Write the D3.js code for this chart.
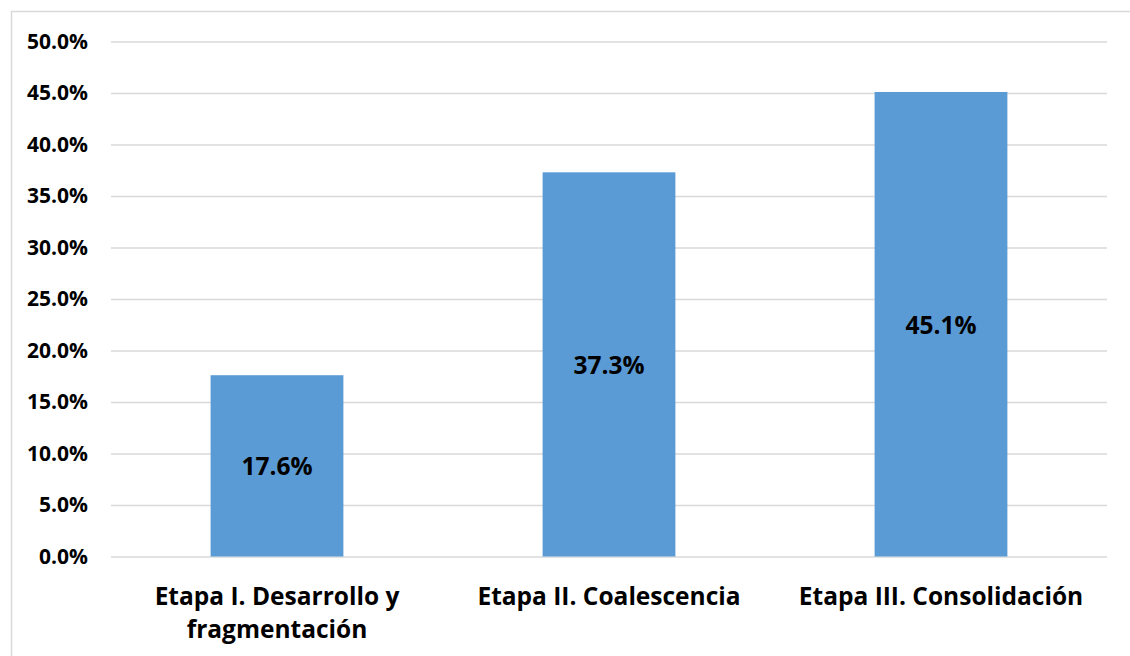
<!DOCTYPE html>
<html>
<head>
<meta charset="utf-8">
<script src="https://cdn.jsdelivr.net/npm/d3@7/dist/d3.min.js"></script>
<style>
  html, body { margin: 0; padding: 0; background: #fff; }
  svg { display: block; font-family: "Open Sans", Lato, sans-serif; }
</style>
</head>
<body>
<svg id="chart" width="1130" height="656"></svg>
<script>
// Stage shares (percent)
const categories = [
  ["Etapa I. Desarrollo y", "fragmentación"],
  ["Etapa II. Coalescencia"],
  ["Etapa III. Consolidación"]
];
const values = [17.6, 37.3, 45.1];
const yTicks = [0, 5, 10, 15, 20, 25, 30, 35, 40, 45, 50];

const svg = d3.select("#chart");
const plot = { left: 111, right: 1107, top: 41.5, bottom: 556.5 };

// outer frame
svg.append("rect")
  .attr("x", 11.5).attr("y", 11.5)
  .attr("width", 1140).attr("height", 660)
  .attr("fill", "none").attr("stroke", "#d9d9d9").attr("stroke-width", 1.5);

const x = d3.scaleBand()
  .domain(d3.range(categories.length))
  .range([plot.left, plot.right])
  .paddingInner(0.6).paddingOuter(0.3);

const y = d3.scaleLinear().domain([0, 50]).range([plot.bottom, plot.top]);

// gridlines + tick labels
const yAxis = d3.axisLeft(y)
  .tickValues(yTicks)
  .tickSize(-(plot.right - plot.left))
  .tickPadding(23)
  .tickFormat(d => d.toFixed(1) + "%");

const gy = svg.append("g")
  .attr("transform", `translate(${plot.left},0)`)
  .call(yAxis);
gy.select(".domain").remove();
gy.selectAll(".tick line").attr("stroke", "#d9d9d9").attr("stroke-width", 1.5);
gy.selectAll(".tick text")
  .attr("fill", "#000")
  .style("font-size", "21px")
  .style("font-weight", "700")
  .style("font-family", "'Open Sans', sans-serif");

// bars
svg.append("g").selectAll("rect")
  .data(values)
  .join("rect")
  .attr("x", (d, i) => x(i))
  .attr("y", d => y(d))
  .attr("width", x.bandwidth())
  .attr("height", d => y(0) - y(d))
  .attr("fill", "#5b9bd5");

// value labels at bar centres
svg.append("g").selectAll("text")
  .data(values)
  .join("text")
  .attr("x", (d, i) => x(i) + x.bandwidth() / 2)
  .attr("y", d => (y(d) + y(0)) / 2)
  .attr("text-anchor", "middle")
  .attr("dominant-baseline", "central")
  .style("font-size", "24.5px")
  .style("font-weight", "700")
  .attr("fill", "#000")
  .text(d => d.toFixed(1) + "%");

// category labels
const cat = svg.append("g").selectAll("text")
  .data(categories)
  .join("text")
  .attr("x", (d, i) => x(i) + x.bandwidth() / 2)
  .attr("y", 605)
  .attr("text-anchor", "middle")
  .style("font-size", "24.5px")
  .style("font-weight", "700")
  .attr("fill", "#000");
cat.selectAll("tspan")
  .data(d => d)
  .join("tspan")
  .attr("x", function() { return this.parentNode.getAttribute("x"); })
  .attr("dy", (d, i) => i === 0 ? 0 : 33)
  .text(d => d);
</script>
</body>
</html>
